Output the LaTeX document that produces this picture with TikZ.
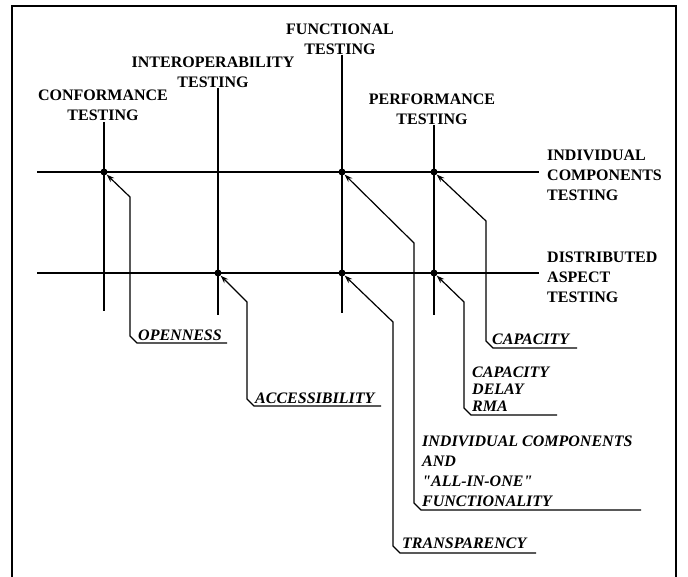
\documentclass[tikz,border=0pt]{standalone}
\usepackage{fontspec}
\setmainfont{Liberation Serif}[Ligatures=TeXOff]
\usetikzlibrary{arrows.meta}
\begin{document}
\begin{tikzpicture}[x=1pt,y=-1pt,
  hdr/.style={font=\fontsize{16}{20}\selectfont\bfseries, align=center, inner sep=0pt, anchor=south},
  side/.style={font=\fontsize{16}{20}\selectfont\bfseries, align=left, inner sep=0pt, anchor=south west},
  callout/.style={font=\fontsize{16}{20}\selectfont\bfseries\itshape, align=left, inner sep=0pt, anchor=south west},
  axis/.style={line width=1.6pt},
  frame/.style={line width=1.6pt},
  lead/.style={line width=1.2pt, -{Stealth[length=8pt,width=5.5pt]}},
  dot/.style={circle, fill, inner sep=0pt, minimum size=7pt}]
\useasboundingbox (0,0) rectangle (688,577);
% frame
\coordinate (fbl) at (12,577);
\coordinate (ftl) at (12,6);
\coordinate (ftr) at (676,6);
\coordinate (fbr) at (676,577);
\draw[frame] (fbl) -- (ftl) -- (ftr) -- (fbr);

% header labels
\node[hdr] (conf) at (103,121) {CONFORMANCE\\TESTING};
\node[hdr] (inter) at (213,88) {INTEROPERABILITY\\TESTING};
\node[hdr] (func) at (340,55) {FUNCTIONAL\\TESTING};
\node[hdr] (perf) at (432,125) {PERFORMANCE\\TESTING};

% side labels
\node[side] (indiv) at (547,201) {INDIVIDUAL\\COMPONENTS\\TESTING};
\node[side] (distr) at (547,303) {DISTRIBUTED\\ASPECT\\TESTING};

% dots
\node[dot] (dC1) at (104,172) {};
\node[dot] (dF1) at (342,172) {};
\node[dot] (dP1) at (434,172) {};
\node[dot] (dI2) at (218,273) {};
\node[dot] (dF2) at (342,273) {};
\node[dot] (dP2) at (434,273) {};

% axis ends
\coordinate (h1l) at (37,172);
\coordinate (h1r) at (539,172);
\coordinate (h2l) at (37,273);
\coordinate (h2r) at (539,273);
\coordinate (vCt) at (104,122);
\coordinate (vCb) at (104,311);
\coordinate (vIt) at (218,88);
\coordinate (vIb) at (218,315);
\coordinate (vFt) at (342,55);
\coordinate (vFb) at (342,313);
\coordinate (vPt) at (434,125);
\coordinate (vPb) at (434,315);

\draw[axis] (h1l) -- (h1r);
\draw[axis] (h2l) -- (h2r);
\draw[axis] (vCt) -- (vCb);
\draw[axis] (vIt) -- (vIb);
\draw[axis] (vFt) -- (vFb);
\draw[axis] (vPt) -- (vPb);

% callout texts
\node[callout] (open) at (138,341) {OPENNESS};
\node[callout] (acc) at (255,404) {ACCESSIBILITY};
\node[callout] (allin) at (422,507) {INDIVIDUAL COMPONENTS\\AND\\"ALL-IN-ONE"\\FUNCTIONALITY};
\node[callout] (transp) at (402,549) {TRANSPARENCY};
\node[callout] (cap) at (492,345) {CAPACITY};
\node[callout, font=\fontsize{16}{17}\selectfont\bfseries\itshape] (cdr) at (472,412) {CAPACITY\\DELAY\\RMA};

% callout leaders
\coordinate (o1) at (227,343); \coordinate (o2) at (137,343); \coordinate (o3) at (130,336); \coordinate (o4) at (130,197);
\draw[lead] (o1) -- (o2) -- (o3) -- (o4) -- (dC1);

\coordinate (a1) at (381,406); \coordinate (a2) at (254,406); \coordinate (a3) at (247,399); \coordinate (a4) at (247,302);
\draw[lead] (a1) -- (a2) -- (a3) -- (a4) -- (dI2);

\coordinate (f1) at (641,510); \coordinate (f2) at (421,510); \coordinate (f3) at (414,503); \coordinate (f4) at (414,243);
\draw[lead] (f1) -- (f2) -- (f3) -- (f4) -- (dF1);

\coordinate (t1) at (536,553); \coordinate (t2) at (400,553); \coordinate (t3) at (393,546); \coordinate (t4) at (393,322);
\draw[lead] (t1) -- (t2) -- (t3) -- (t4) -- (dF2);

\coordinate (c1) at (577,348); \coordinate (c2) at (493,348); \coordinate (c3) at (486,341); \coordinate (c4) at (486,221);
\draw[lead] (c1) -- (c2) -- (c3) -- (c4) -- (dP1);

\coordinate (r1) at (557,415); \coordinate (r2) at (471,415); \coordinate (r3) at (464,408); \coordinate (r4) at (464,302);
\draw[lead] (r1) -- (r2) -- (r3) -- (r4) -- (dP2);
\end{tikzpicture}
\end{document}
